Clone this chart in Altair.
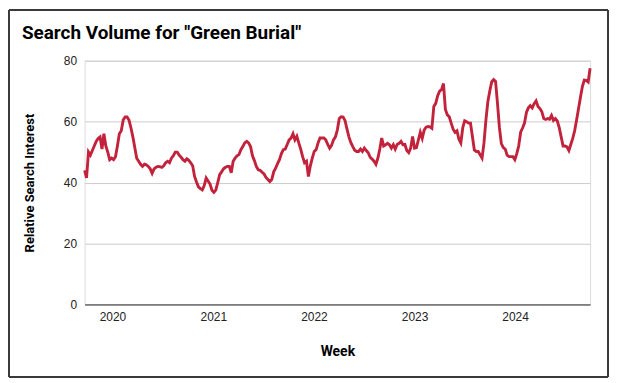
import altair as alt
import pandas as pd

# Weekly relative search interest
start_date = "2019-09-22"
interest = [
    44, 41.5, 50, 49, 50.5, 52, 53.5, 54.5, 55, 51,
    56, 52, 50, 47.5, 48, 47.5, 48.5, 52, 56, 57,
    60.5, 61.5, 61.5, 60.5, 58, 55, 51.5, 48, 47, 46,
    45.3, 46, 45.8, 45.3, 44.5, 43, 44.5, 45, 45.3, 45.2,
    45, 45.5, 46.5, 47, 46.5, 48, 48.8, 50, 50, 49,
    48.3, 47.5, 47, 47.8, 47.3, 46.5, 45.5, 42, 40.2, 38.6,
    38, 37.6, 39, 41.5, 40.5, 39.5, 37.5, 36.8, 37.5, 40,
    42.6, 43.5, 44.5, 45, 45.3, 45.3, 43.2, 47, 48, 48.8,
    49.2, 50.8, 51.8, 53, 53.5, 53, 51.8, 48.8, 47.2, 45.3,
    44.2, 44, 43.4, 42.8, 41.7, 41, 40.3, 41, 43.5, 44.7,
    46.2, 47.5, 49.5, 50.8, 51, 52.5, 54, 54.6, 56, 54,
    55.2, 53, 51, 48.5, 46.5, 47, 42, 45.5, 48, 50.2,
    50.8, 53, 54.6, 54.6, 54.6, 54, 52.5, 51.3, 52.2, 54,
    55, 57.3, 61, 61.6, 61.5, 60.3, 57.5, 55, 53.1, 51.8,
    50.6, 50.2, 50.2, 51, 50.2, 51.3, 50.5, 49.8, 48.3, 47.7,
    47, 46, 48, 51, 54.6, 52, 52.4, 52.9, 52.4, 51.3,
    52.4, 51, 52.5, 52.9, 53.5, 52.4, 52.5, 50.5, 49.8, 51.3,
    55.1, 51.3, 51.5, 54, 56.5, 54.5, 57.2, 58.2, 58.4, 58.3,
    57.8, 65, 66, 68.5, 70, 70.5, 72.5, 64, 62.2, 61.6,
    59.5, 57.5, 56.5, 57, 54.2, 53, 58, 60.3, 60, 59.5,
    59.5, 55.1, 50.7, 50.2, 50.2, 49.1, 48, 53, 60.5, 66.5,
    70, 73, 73.8, 73.2, 66, 58, 52.8, 51.5, 51, 49,
    48.5, 48.5, 48.5, 47.5, 49.5, 52, 56.5, 57.9, 59.5, 63,
    64.5, 65.2, 64.5, 65.9, 66.8, 65, 64.3, 63.2, 61, 60.7,
    61, 60.8, 62, 60.4, 61, 60.2, 58, 55, 52, 52,
    51.7, 50.5, 52.5, 54.5, 57, 60.5, 64.2, 68, 71.5, 73.6,
    73.5, 73, 77.5,
]
weeks = pd.date_range(start=start_date, periods=len(interest), freq="7D")
y_ticks = [0, 20, 40, 60, 80]
chart_title = 'Search Volume for "Green Burial"'

df = pd.DataFrame({"Week": weeks, "Interest": interest})
one = pd.DataFrame({"k": [0]})

x_enc = alt.X(
    "Week:T",
    title="Week",
    scale=alt.Scale(domain=[weeks[0].isoformat(), weeks[-1].isoformat()], nice=False),
    axis=alt.Axis(
        format="%Y",
        tickCount={"interval": "year", "step": 1},
        grid=False,
        ticks=False,
        domain=True,
        domainColor="#333333",
        domainWidth=1,
        labelFont="Liberation Sans",
        labelFontSize=12,
        labelColor="#222222",
        labelPadding=7,
        titleFont="Roboto",
        titleFontSize=14,
        titleFontWeight="bold",
        titleColor="#000000",
        titlePadding=22,
    ),
)
y_enc = alt.Y(
    "Interest:Q",
    title="Relative Search Interest",
    scale=alt.Scale(domain=[0, 80], nice=False),
    axis=alt.Axis(
        values=y_ticks,
        grid=True,
        gridColor="#cccccc",
        gridWidth=1,
        ticks=False,
        domain=False,
        labelFont="Liberation Sans",
        labelFontSize=12,
        labelColor="#222222",
        labelPadding=8,
        titleFont="Roboto",
        titleFontSize=13,
        titleFontWeight="bold",
        titleColor="#000000",
        titlePadding=27,
    ),
)

line = alt.Chart(df).mark_line(color="#c2223b", strokeWidth=2.9).encode(x=x_enc, y=y_enc)

# outer frame (drawn just inside the drawing surface)
border = "#3a3a3a"
bw = 2
fx0, fx1, fy0, fy1 = -76, 526, -51, 318
top_edge = alt.Chart(one).mark_rule(color=border, strokeWidth=bw).encode(
    x=alt.value(fx0), x2=alt.value(fx1), y=alt.value(fy0))
bottom_edge = alt.Chart(one).mark_rule(color=border, strokeWidth=bw).encode(
    x=alt.value(fx0), x2=alt.value(fx1), y=alt.value(fy1))
left_edge = alt.Chart(one).mark_rule(color=border, strokeWidth=bw).encode(
    x=alt.value(fx0), y=alt.value(fy0), y2=alt.value(fy1))
right_edge = alt.Chart(one).mark_rule(color=border, strokeWidth=bw).encode(
    x=alt.value(fx1), y=alt.value(fy0), y2=alt.value(fy1))

title_text = alt.Chart(one).mark_text(
    align="left", baseline="alphabetic", font="Roboto", fontSize=19,
    fontWeight="bold", color="#000000",
).encode(x=alt.value(-63), y=alt.value(-22), text=alt.value(chart_title))

chart = (
    alt.layer(line, top_edge, bottom_edge, left_edge, right_edge, title_text)
    .properties(
        width=508,
        height=245,
        autosize=alt.AutoSizeParams(type="none"),
        padding={"left": 77, "top": 52, "right": 19, "bottom": 74},
    )
    .configure_view(stroke=None)
    .configure(background="#ffffff")
)

chart.save("out.html", embed_options={"renderer": "svg", "actions": False})
